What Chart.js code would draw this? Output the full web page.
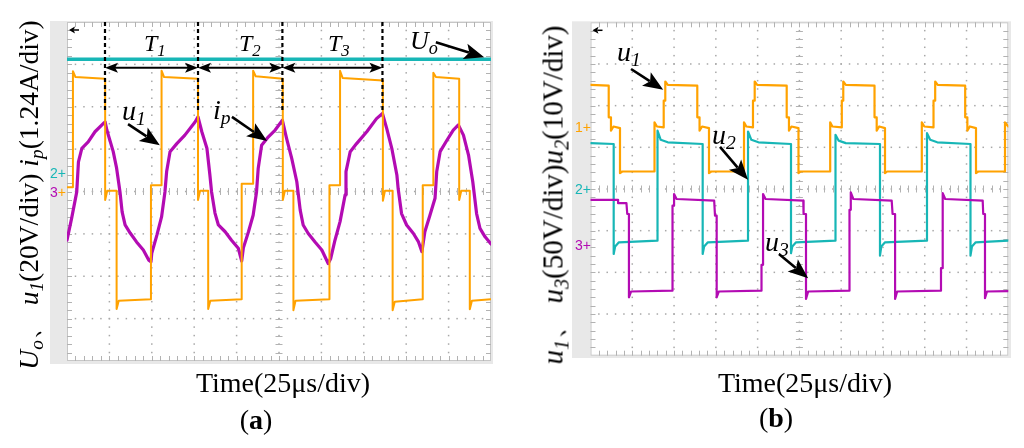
<!DOCTYPE html>
<html>
<head>
<meta charset="utf-8">
<script src="https://cdn.jsdelivr.net/npm/chart.js@4.4.1/dist/chart.umd.min.js"></script>
<style>
html,body{margin:0;padding:0;background:#fff;width:1024px;height:448px;overflow:hidden;}
canvas{position:absolute;top:0;}
.t{position:absolute;font-family:"Liberation Serif","Times New Roman",serif;color:#000;white-space:nowrap;line-height:1;}
.c{transform:translate(-50%,-50%);}
.r{transform:translate(-50%,-50%) rotate(-90deg);}
.i{font-style:italic;}
sub{font-size:0.7em;vertical-align:baseline;position:relative;top:0.28em;}
.m{position:absolute;font-family:"Liberation Sans",Arial,sans-serif;font-size:14px;line-height:1;transform:translateY(-50%);}
</style>
</head>
<body>
<canvas id="ca" width="512" height="448" style="left:0"></canvas>
<canvas id="cb" width="512" height="448" style="left:512px"></canvas>

<!-- panel (a) texts -->
<div class="t r" style="left:28.5px;top:194.5px;font-size:27.5px;"><span class="i">U<sub>o</sub></span>、 <span class="i">u<sub>1</sub></span>(20V/div) <span class="i">i<sub>p</sub></span>(1.24A/div)</div>
<div class="t c" style="left:283px;top:383px;font-size:28px;">Time(25μs/div)</div>
<div class="t c" style="left:256px;top:420px;font-size:28px;">(<b>a</b>)</div>
<div class="t i" style="left:144px;top:31px;font-size:24px;">T<sub>1</sub></div>
<div class="t i" style="left:239px;top:31px;font-size:24px;">T<sub>2</sub></div>
<div class="t i" style="left:328px;top:31px;font-size:24px;">T<sub>3</sub></div>
<div class="t i" style="left:410px;top:28px;font-size:26px;">U<sub>o</sub></div>
<div class="t i" style="left:122px;top:97px;font-size:28px;">u<sub>1</sub></div>
<div class="t i" style="left:213px;top:96px;font-size:28px;">i<sub>p</sub></div>
<div class="m" style="left:50px;top:173px;color:#17b6b6;">2+</div>
<div class="m" style="left:50px;top:192px;color:#b30bb3;">3<span style="color:#ffa200">+</span></div>

<!-- panel (b) texts -->
<div class="t r" style="left:553px;top:194.5px;font-size:29px;"><span class="i">u<sub>1</sub></span>、 <span class="i">u<sub>3</sub></span>(50V/div)<span class="i">u<sub>2</sub></span>(10V/div)</div>
<div class="t c" style="left:805px;top:383px;font-size:28px;">Time(25μs/div)</div>
<div class="t c" style="left:776px;top:418px;font-size:28px;">(<b>b</b>)</div>
<div class="t i" style="left:617px;top:38px;font-size:28px;">u<sub>1</sub></div>
<div class="t i" style="left:712px;top:121px;font-size:28px;">u<sub>2</sub></div>
<div class="t i" style="left:765px;top:228px;font-size:28px;">u<sub>3</sub></div>
<div class="m" style="left:575px;top:127px;color:#ffa200;">1+</div>
<div class="m" style="left:575px;top:189px;color:#17b6b6;">2+</div>
<div class="m" style="left:575px;top:245px;color:#b30bb3;">3+</div>

<script>
// ---------- grid (oscilloscope divisions) ----------
const X_DIV = 10;
const Y_DIV = 8;

// ---------- panel (a) ----------
const uoTime  = [0, 10];
const uoValue = [7.12, 7.12];

const u1aTime  = [0, 0.14, 0.14, 0.20, 0.90, 0.90, 0.95, 1.17, 1.17, 1.22, 1.98, 1.98, 2.23, 2.23, 2.29, 3.09, 3.09, 3.14, 3.33, 3.33, 3.38, 4.12, 4.12, 4.39, 4.39, 4.45, 5.09, 5.09, 5.14, 5.34, 5.34, 5.39, 6.19, 6.19, 6.44, 6.44, 6.50, 7.45, 7.45, 7.50, 7.68, 7.68, 7.73, 8.39, 8.39, 8.64, 8.64, 8.70, 9.25, 9.25, 9.30, 9.50, 9.50, 9.55, 10];
const u1aValue = [4.10, 4.10, 6.84, 6.70, 6.66, 3.80, 4.02, 4.02, 1.23, 1.42, 1.46, 4.15, 4.15, 6.85, 6.70, 6.66, 3.80, 4.02, 4.02, 1.23, 1.42, 1.46, 4.18, 4.18, 6.85, 6.72, 6.66, 3.80, 4.02, 4.02, 1.20, 1.42, 1.46, 4.15, 4.15, 6.85, 6.68, 6.62, 3.78, 4.02, 4.02, 1.20, 1.40, 1.46, 4.15, 4.15, 6.80, 6.70, 6.66, 3.80, 4.02, 4.02, 1.22, 1.42, 1.46];

const ipTime  = [0, 0.11, 0.23, 0.27, 0.35, 0.50, 0.66, 0.86, 0.90, 0.94, 1.09, 1.17, 1.25, 1.30, 1.37, 1.49, 1.64, 1.80, 1.93, 1.98, 2.00, 2.12, 2.23, 2.31, 2.35, 2.43, 2.59, 2.78, 3.02, 3.09, 3.18, 3.30, 3.37, 3.41, 3.49, 3.57, 3.73, 3.88, 4.04, 4.12, 4.16, 4.28, 4.39, 4.47, 4.51, 4.59, 4.75, 4.91, 5.08, 5.18, 5.30, 5.42, 5.50, 5.57, 5.69, 5.85, 6.01, 6.16, 6.22, 6.32, 6.44, 6.56, 6.58, 6.68, 6.83, 7.07, 7.30, 7.44, 7.54, 7.66, 7.78, 7.81, 7.89, 8.01, 8.17, 8.29, 8.37, 8.44, 8.56, 8.68, 8.72, 8.80, 8.96, 9.11, 9.23, 9.35, 9.47, 9.57, 9.66, 9.74, 9.86, 10];
const ipValue = [2.85, 3.37, 3.99, 4.70, 5.02, 5.17, 5.41, 5.61, 5.64, 5.45, 4.94, 4.55, 3.99, 3.52, 3.21, 3.02, 2.81, 2.62, 2.38, 2.34, 2.55, 2.97, 3.40, 3.99, 4.47, 4.94, 5.13, 5.33, 5.64, 5.76, 5.41, 5.02, 4.39, 3.99, 3.49, 3.21, 3.05, 2.85, 2.66, 2.36, 2.67, 3.05, 3.44, 3.99, 4.55, 5.09, 5.29, 5.45, 5.68, 5.25, 4.78, 4.23, 3.56, 3.21, 3.01, 2.81, 2.62, 2.30, 2.42, 2.85, 3.29, 3.92, 4.47, 4.94, 5.13, 5.41, 5.72, 5.84, 5.49, 5.02, 4.39, 4.07, 3.48, 3.21, 3.01, 2.81, 2.58, 3.05, 3.44, 3.84, 4.47, 4.94, 5.21, 5.45, 5.57, 5.33, 4.86, 4.23, 3.48, 3.13, 2.93, 2.76];

const periodEdges = [0.896, 3.09, 5.08, 7.44];   // T1, T2, T3 boundaries (div)

// ---------- panel (b) ----------
const u1bTime  = [0,
  0.436, 0.436, 0.49, 0.49, 0.55, 0.706, 0.706, 0.76, 1.532, 1.532, 1.59, 1.752, 1.752, 1.79, 1.79, 1.85,
  2.556, 2.556, 2.61, 2.61, 2.67, 2.836, 2.836, 2.89, 3.674, 3.674, 3.73, 3.889, 3.889, 3.93, 3.93, 3.99,
  4.696, 4.696, 4.75, 4.75, 4.81, 4.978, 4.978, 5.03, 5.737, 5.737, 5.79, 6.015, 6.015, 6.05, 6.05, 6.11,
  6.798, 6.798, 6.85, 6.85, 6.91, 7.049, 7.049, 7.10, 7.930, 7.930, 7.99, 8.210, 8.210, 8.25, 8.25, 8.31,
  8.968, 8.968, 9.02, 9.02, 9.08, 9.227, 9.227, 9.28, 9.921, 9.921, 10];
const u1bValue = [6.50,
  6.48, 5.72, 5.72, 5.40, 5.50, 5.46, 4.38, 4.42, 4.42, 5.60, 5.50, 5.48, 6.12, 6.12, 6.58, 6.50,
  6.48, 5.72, 5.72, 5.40, 5.50, 5.46, 4.38, 4.42, 4.42, 5.60, 5.50, 5.48, 6.12, 6.12, 6.58, 6.50,
  6.48, 5.72, 5.72, 5.40, 5.50, 5.46, 4.38, 4.42, 4.42, 5.60, 5.50, 5.48, 6.12, 6.12, 6.58, 6.50,
  6.48, 5.72, 5.72, 5.40, 5.50, 5.46, 4.38, 4.42, 4.42, 5.60, 5.50, 5.48, 6.12, 6.12, 6.58, 6.50,
  6.48, 5.72, 5.72, 5.40, 5.50, 5.46, 4.38, 4.42, 4.42, 5.60, 5.50];

const u2Time  = [0, 0.555, 0.555, 0.59, 0.68, 1.604, 1.604, 1.68, 1.85, 2.685, 2.685, 2.72, 2.81, 3.770, 3.770, 3.85, 4.02, 4.799, 4.799, 4.83, 4.92, 5.864, 5.864, 5.94, 6.11, 6.929, 6.929, 6.96, 7.05, 8.054, 8.054, 8.13, 8.30, 9.095, 9.095, 9.13, 9.22, 10];
const u2Value = [5.10, 5.08, 2.44, 2.62, 2.72, 2.76, 5.40, 5.18, 5.12, 5.08, 2.44, 2.62, 2.72, 2.76, 5.38, 5.18, 5.12, 5.08, 2.46, 2.62, 2.72, 2.76, 5.30, 5.16, 5.10, 5.08, 2.40, 2.62, 2.72, 2.76, 5.34, 5.18, 5.12, 5.08, 2.40, 2.62, 2.72, 2.76];

const u3Time  = [0, 0.66, 0.66, 0.86, 0.88, 0.92, 0.92, 0.97, 1.963, 1.963, 2.00, 2.00, 2.06, 2.96, 2.98, 3.02, 3.02, 3.07, 4.093, 4.093, 4.13, 4.13, 4.19, 5.093, 5.10, 5.158, 5.158, 5.21, 6.199, 6.199, 6.23, 6.23, 6.29, 7.209, 7.23, 7.29, 7.29, 7.34, 8.389, 8.389, 8.43, 8.43, 8.49, 9.387, 9.40, 9.442, 9.442, 9.49, 10];
const u3Value = [3.74, 3.74, 3.66, 3.66, 3.40, 3.40, 1.40, 1.54, 1.56, 3.60, 3.60, 3.88, 3.76, 3.72, 3.36, 3.36, 1.40, 1.54, 1.56, 2.18, 2.18, 3.88, 3.76, 3.72, 3.40, 3.40, 1.36, 1.54, 1.56, 3.50, 3.50, 3.92, 3.76, 3.72, 3.40, 3.40, 1.36, 1.54, 1.56, 2.10, 2.10, 3.90, 3.76, 3.72, 3.40, 3.40, 1.38, 1.54, 1.55];

// ---------- styles ----------
const ORANGE = '#ffa200';
const CYAN = '#17b6b6';
const MAGENTA = '#b30bb3';

const pts = (t, v) => t.map((x, i) => ({x, y: v[i]}));

// annotation arrows, in division units: [x1, y1, x2(tip), y2(tip)]
const arrowsA = [[1.44, 5.59, 2.19, 5.09], [3.89, 5.76, 4.72, 5.19], [8.70, 7.52, 9.84, 7.17]];
const arrowsB = [[0.97, 6.88, 1.74, 6.38], [3.10, 5.01, 3.77, 4.22], [4.51, 2.44, 5.21, 1.86]];
const spanArrowY = 6.92;
const periodMarkLow = 5.85;

function head(ctx, x1, y1, x2, y2, len, half) {
  const a = Math.atan2(y2 - y1, x2 - x1), c = Math.cos(a), s = Math.sin(a);
  ctx.beginPath();
  ctx.moveTo(x2, y2);
  ctx.lineTo(x2 - len * c + half * s, y2 - len * s - half * c);
  ctx.lineTo(x2 - len * 0.78 * c, y2 - len * 0.78 * s);
  ctx.lineTo(x2 - len * c - half * s, y2 - len * s + half * c);
  ctx.closePath();
  ctx.fill();
}
function arrow(ctx, x1, y1, x2, y2, len, half, w) {
  const a = Math.atan2(y2 - y1, x2 - x1);
  ctx.lineWidth = w;
  ctx.beginPath();
  ctx.moveTo(x1, y1);
  ctx.lineTo(x2 - len * 0.8 * Math.cos(a), y2 - len * 0.8 * Math.sin(a));
  ctx.stroke();
  head(ctx, x1, y1, x2, y2, len, half);
}

const scopePlugin = {
  id: 'scope',
  beforeDatasetsDraw(chart, args, o) {
    const {ctx, chartArea: a, scales: {x, y}} = chart;
    const f = o.frame;
    ctx.save();
    ctx.fillStyle = '#e8e8e8';
    ctx.fillRect(a.left - f[0], a.top - f[1], a.right - a.left + f[0] + f[2], a.bottom - a.top + f[1] + f[3]);
    ctx.fillStyle = '#fff';
    ctx.fillRect(a.left, a.top, a.right - a.left, a.bottom - a.top);
    ctx.strokeStyle = '#c6c6c6'; ctx.lineWidth = 1;
    ctx.strokeRect(a.left + 0.5, a.top + 0.5, a.right - a.left - 1, a.bottom - a.top - 1);
    // dotted division lines
    ctx.fillStyle = '#a8a8a8';
    for (let i = 1; i < X_DIV; i++) {
      const px = x.getPixelForValue(i);
      for (let j = 1; j < Y_DIV * 5; j++) {
        const py = y.getPixelForValue(j / 5);
        ctx.fillRect(px - 0.75, py - 0.75, 1.5, 1.5);
      }
    }
    for (let j = 1; j < Y_DIV; j++) {
      const py = y.getPixelForValue(j);
      for (let i = 1; i < X_DIV * 5; i++) {
        const px = x.getPixelForValue(i / 5);
        ctx.fillRect(px - 0.75, py - 0.75, 1.5, 1.5);
      }
    }
    // minor ticks on edges and centre lines
    ctx.strokeStyle = '#b2b2b2'; ctx.lineWidth = 1;
    ctx.beginPath();
    const cx = x.getPixelForValue(X_DIV / 2), cy = y.getPixelForValue(Y_DIV / 2);
    for (let j = 1; j < Y_DIV * 5; j++) {
      const py = Math.round(y.getPixelForValue(j / 5)) + 0.5;
      ctx.moveTo(a.left, py); ctx.lineTo(a.left + 5, py);
      ctx.moveTo(a.right - 5, py); ctx.lineTo(a.right, py);
      ctx.moveTo(cx - 3.5, py); ctx.lineTo(cx + 3.5, py);
    }
    for (let i = 1; i < X_DIV * 5; i++) {
      const px = Math.round(x.getPixelForValue(i / 5)) + 0.5;
      ctx.moveTo(px, a.top); ctx.lineTo(px, a.top + 5);
      ctx.moveTo(px, a.bottom - 5); ctx.lineTo(px, a.bottom);
      ctx.moveTo(px, cy - 3.5); ctx.lineTo(px, cy + 3.5);
    }
    ctx.stroke();
    ctx.restore();
  },
  afterDatasetsDraw(chart, args, o) {
    const {ctx, chartArea: a, scales: {x, y}} = chart;
    ctx.save();
    ctx.fillStyle = '#000'; ctx.strokeStyle = '#000';
    // trigger marker
    arrow(ctx, a.left + 12, a.top + 8, a.left + 2, a.top + 8, 6, 3.5, 1.5);
    (o.arrows || []).forEach(r => {
      arrow(ctx, x.getPixelForValue(r[0]), y.getPixelForValue(r[1]), x.getPixelForValue(r[2]), y.getPixelForValue(r[3]), 20, 8, 2.6);
    });
    if (o.spans) {
      const py = y.getPixelForValue(spanArrowY);
      for (let k = 0; k < o.spans.length - 1; k++) {
        const p1 = x.getPixelForValue(o.spans[k]), p2 = x.getPixelForValue(o.spans[k + 1]);
        ctx.lineWidth = 2;
        ctx.beginPath(); ctx.moveTo(p1 + 8, py); ctx.lineTo(p2 - 8, py); ctx.stroke();
        head(ctx, p2, py, p1, py, 13, 5);
        head(ctx, p1, py, p2, py, 13, 5);
      }
    }
    ctx.restore();
  }
};

const baseOptions = (pad, plug) => ({
  responsive: false,
  animation: false,
  events: [],
  layout: {padding: pad},
  elements: {point: {radius: 0}, line: {tension: 0, borderJoinStyle: 'round', borderCapStyle: 'round', fill: false}},
  scales: {
    x: {type: 'linear', min: 0, max: X_DIV, display: false},
    y: {type: 'linear', min: 0, max: Y_DIV, display: false}
  },
  plugins: {legend: {display: false}, tooltip: {enabled: false}, scope: plug}
});

new Chart(document.getElementById('ca'), {
  type: 'line',
  data: {datasets: [
    ...periodEdges.map(t => ({label: 'edge', data: [{x: t, y: Y_DIV}, {x: t, y: periodMarkLow}], borderColor: '#000', borderWidth: 2.2, borderDash: [4, 3], borderCapStyle: 'butt'})),
    {label: 'u1', data: pts(u1aTime, u1aValue), borderColor: ORANGE, borderWidth: 2},
    {label: 'ip', data: pts(ipTime, ipValue), borderColor: MAGENTA, borderWidth: 3.2},
    {label: 'Uo', data: pts(uoTime, uoValue), borderColor: CYAN, borderWidth: 3.5}
  ]},
  options: baseOptions({left: 67, top: 22, right: 21, bottom: 87}, {frame: [17, 1, 2, 3], arrows: arrowsA, spans: periodEdges}),
  plugins: [scopePlugin]
});

new Chart(document.getElementById('cb'), {
  type: 'line',
  data: {datasets: [
    {label: 'u3', data: pts(u3Time, u3Value), borderColor: MAGENTA, borderWidth: 2.2},
    {label: 'u2', data: pts(u2Time, u2Value), borderColor: CYAN, borderWidth: 2.2},
    {label: 'u1', data: pts(u1bTime, u1bValue), borderColor: ORANGE, borderWidth: 2.2}
  ]},
  options: baseOptions({left: 78.5, top: 22.3, right: 15.7, bottom: 92.3}, {frame: [18.5, 1, 2.7, 2.3], arrows: arrowsB}),
  plugins: [scopePlugin]
});
</script>
</body>
</html>
